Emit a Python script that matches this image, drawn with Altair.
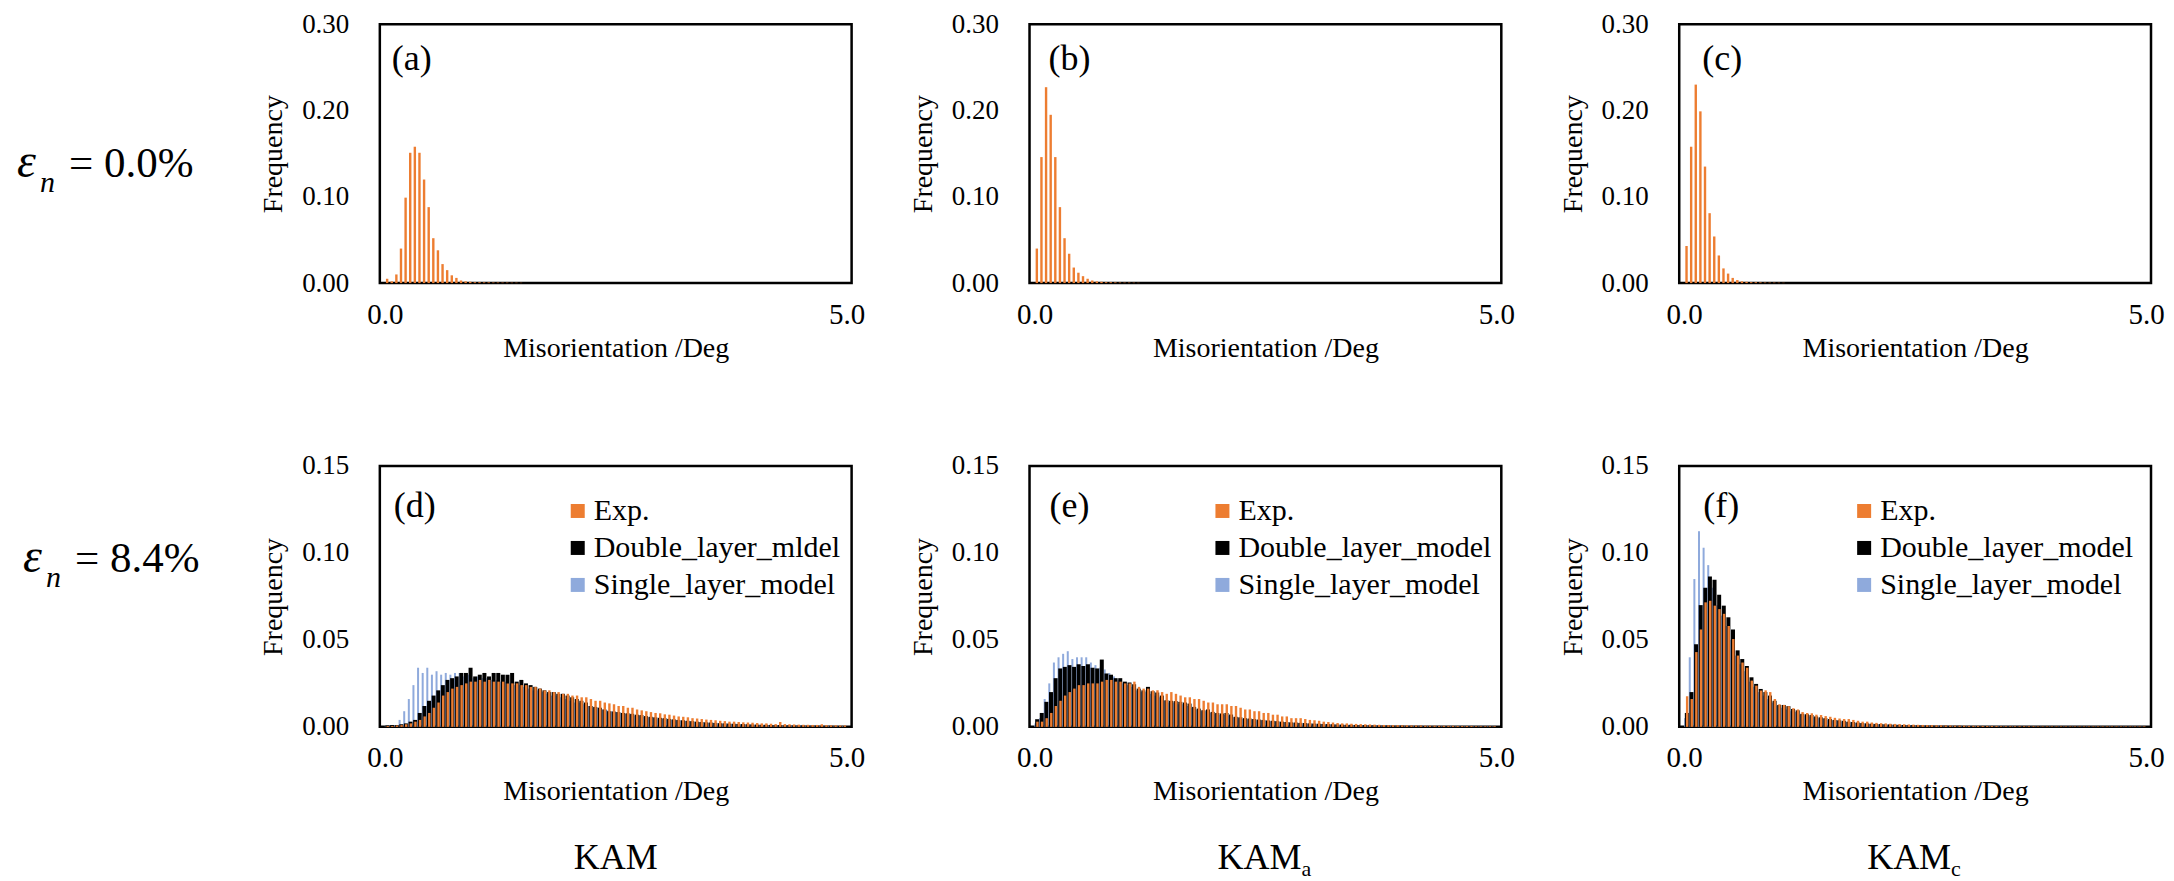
import altair as alt
import pandas as pd

FONT = "Liberation Serif"
BIN_WIDTH = 0.05
X_DOMAIN = [0.0, 5.0]
X_TICKS = [0.0, 5.0]
TOP_Y_DOMAIN = [0.0, 0.30]
TOP_Y_TICKS = [0.0, 0.10, 0.20, 0.30]
BOT_Y_DOMAIN = [0.0, 0.15]
BOT_Y_TICKS = [0.0, 0.05, 0.10, 0.15]

COLORS = ["#ED7D31", "#000000", "#8FAADC"]
NAMES_D = ["Exp.", "Double_layer_mldel", "Single_layer_model"]
NAMES_EF = ["Exp.", "Double_layer_model", "Single_layer_model"]
PANEL_LABELS = ["(a)", "(b)", "(c)", "(d)", "(e)", "(f)"]
ROW_LABELS = ["= 0.0%", "= 8.4%"]
BOTTOM_TITLES = [("KAM", ""), ("KAM", "a"), ("KAM", "c")]

# ---- eps_n = 0.0 % (top row), bin width 0.05 deg ----
exp_a = [0.005, 0.002, 0.010, 0.040, 0.099, 0.151, 0.158, 0.151, 0.120, 0.088,
         0.052, 0.038, 0.022, 0.015, 0.009, 0.006, 0.003, 0.002, 0.0015, 0.001,
         0.001, 0.0008, 0.0008, 0.0006, 0.0006, 0.0005, 0.0005, 0.0004, 0.0004, 0.0003]
exp_b = [0.040, 0.146, 0.227, 0.195, 0.146, 0.088, 0.052, 0.034, 0.018, 0.012,
         0.008, 0.005, 0.003, 0.002, 0.0015, 0.001, 0.001, 0.0008, 0.0006, 0.0005,
         0.0005, 0.0004, 0.0003]
exp_c = [0.043, 0.158, 0.230, 0.199, 0.135, 0.081, 0.054, 0.032, 0.017, 0.011,
         0.006, 0.0035, 0.002, 0.0015, 0.001, 0.001, 0.0008, 0.0006, 0.0005, 0.0005,
         0.0004, 0.0003]

# ---- eps_n = 8.4 % (bottom row) ----
exp_d = [0.0005, 0.0005, 0.0008, 0.001, 0.0015, 0.002, 0.003, 0.004, 0.006, 0.008,
         0.011, 0.014, 0.018, 0.020, 0.022, 0.023, 0.024, 0.025, 0.026, 0.026,
         0.027, 0.026, 0.027, 0.026, 0.026, 0.026, 0.025, 0.025, 0.025, 0.024,
         0.024, 0.023, 0.023, 0.022, 0.021, 0.021, 0.020, 0.020, 0.019, 0.019,
         0.018, 0.018, 0.017, 0.017, 0.016, 0.015, 0.015, 0.014, 0.0135, 0.013,
         0.012, 0.012, 0.011, 0.011, 0.010, 0.0095, 0.009, 0.0085, 0.008, 0.0078,
         0.0072, 0.007, 0.0065, 0.006, 0.0058, 0.0055, 0.005, 0.0048, 0.0045, 0.0042,
         0.004, 0.0038, 0.0035, 0.0033, 0.003, 0.003, 0.0028, 0.0026, 0.0025, 0.0024,
         0.0022, 0.002, 0.002, 0.0018, 0.0016, 0.0028, 0.0016, 0.0015, 0.0014, 0.0013,
         0.0012, 0.0012, 0.0011, 0.0011, 0.0015, 0.001, 0.0009, 0.0009, 0.0008, 0.0008]
dbl_d = [0.0008, 0.001, 0.001, 0.0015, 0.002, 0.003, 0.004, 0.008, 0.012, 0.015,
         0.018, 0.021, 0.024, 0.027, 0.028, 0.029, 0.031, 0.031, 0.034, 0.029,
         0.030, 0.031, 0.029, 0.031, 0.031, 0.030, 0.030, 0.031, 0.026, 0.027,
         0.025, 0.024, 0.023, 0.022, 0.021, 0.020, 0.020, 0.019, 0.019, 0.018,
         0.017, 0.016, 0.015, 0.014, 0.012, 0.0115, 0.011, 0.010, 0.009, 0.0088,
         0.0085, 0.008, 0.0078, 0.0075, 0.007, 0.0068, 0.0062, 0.0058, 0.0055, 0.0052,
         0.005, 0.0046, 0.0043, 0.004, 0.0038, 0.0035, 0.0033, 0.003, 0.0028, 0.0026,
         0.0025, 0.0023, 0.0021, 0.002, 0.0019, 0.0018, 0.0017, 0.0016, 0.0015, 0.0014,
         0.0013, 0.0012, 0.0012, 0.0011, 0.001, 0.001, 0.0009, 0.0009, 0.0008, 0.0008,
         0.0008, 0.0007, 0.0007, 0.0007, 0.0006, 0.0006, 0.0006, 0.0005, 0.0005, 0.0005]
sgl_d = [0.0003, 0.0005, 0.001, 0.004, 0.009, 0.016, 0.024, 0.034, 0.031, 0.034,
         0.030, 0.032, 0.030, 0.031, 0.030, 0.031, 0.031, 0.029, 0.030, 0.028,
         0.029, 0.028, 0.028, 0.027, 0.027, 0.026, 0.026, 0.025, 0.024, 0.024,
         0.023, 0.022, 0.021, 0.021, 0.020, 0.019, 0.018, 0.018, 0.017, 0.016,
         0.015, 0.014, 0.014, 0.013, 0.012, 0.011, 0.011, 0.010, 0.0095, 0.009,
         0.0085, 0.008, 0.0075, 0.007, 0.0066, 0.0062, 0.0058, 0.0055, 0.0052, 0.0048,
         0.0045, 0.0042, 0.004, 0.0037, 0.0035, 0.0033, 0.003, 0.0028, 0.0026, 0.0025,
         0.0023, 0.0022, 0.002, 0.0019, 0.0018, 0.0017, 0.0016, 0.0015, 0.0014, 0.0013,
         0.0012, 0.0012, 0.0011, 0.001, 0.001, 0.0009, 0.0009, 0.0008, 0.0008, 0.0008,
         0.0007, 0.0007, 0.0007, 0.0006, 0.0006, 0.0006, 0.0005, 0.0005, 0.0005, 0.0005]

exp_e = [0.003, 0.003, 0.005, 0.008, 0.012, 0.015, 0.018, 0.020, 0.022, 0.024,
         0.024, 0.025, 0.025, 0.025, 0.026, 0.027, 0.027, 0.026, 0.026, 0.025,
         0.025, 0.026, 0.023, 0.022, 0.022, 0.021, 0.021, 0.020, 0.019, 0.020,
         0.019, 0.018, 0.017, 0.017, 0.016, 0.016, 0.015, 0.014, 0.014, 0.013,
         0.013, 0.013, 0.012, 0.012, 0.011, 0.010, 0.010, 0.009, 0.009, 0.008,
         0.008, 0.007, 0.007, 0.006, 0.006, 0.005, 0.005, 0.005, 0.0045, 0.004,
         0.0038, 0.0035, 0.003, 0.0028, 0.0025, 0.0022, 0.002, 0.002, 0.0018, 0.0017,
         0.0016, 0.0015, 0.0014, 0.0013, 0.0012, 0.0011, 0.001, 0.001, 0.001, 0.0009,
         0.0009, 0.0008, 0.0008, 0.0008, 0.0007, 0.0007, 0.0007, 0.0006, 0.0006, 0.0006,
         0.0006, 0.0005, 0.0005, 0.0005, 0.0005, 0.0004, 0.0004, 0.0004, 0.0004, 0.0004]
dbl_e = [0.0044, 0.008, 0.0144, 0.020, 0.028, 0.0336, 0.0345, 0.0355, 0.0345, 0.036,
         0.035, 0.036, 0.034, 0.0336, 0.0387, 0.0307, 0.030, 0.028, 0.028, 0.026,
         0.0255, 0.0245, 0.022, 0.021, 0.023, 0.0205, 0.0198, 0.018, 0.0153, 0.015,
         0.0148, 0.0144, 0.014, 0.0134, 0.0115, 0.0105, 0.0096, 0.010, 0.0086, 0.008,
         0.0077, 0.008, 0.0071, 0.0058, 0.0055, 0.005, 0.0048, 0.0045, 0.0042, 0.004,
         0.0037, 0.0035, 0.0033, 0.003, 0.0028, 0.0026, 0.0025, 0.0023, 0.0022, 0.002,
         0.0019, 0.0018, 0.0017, 0.0016, 0.0015, 0.0014, 0.0013, 0.0012, 0.0012, 0.0011,
         0.001, 0.001, 0.0009, 0.0009, 0.0008, 0.0008, 0.0008, 0.0007, 0.0007, 0.0007,
         0.0006, 0.0006, 0.0006, 0.0006, 0.0005, 0.0005, 0.0005, 0.0005, 0.0005, 0.0005,
         0.0004, 0.0004, 0.0004, 0.0004, 0.0004, 0.0004, 0.0004, 0.0004, 0.0004, 0.0004]
sgl_e = [0.002, 0.005, 0.016, 0.025, 0.037, 0.040, 0.042, 0.0435, 0.039, 0.040,
         0.040, 0.040, 0.037, 0.0355, 0.034, 0.033, 0.031, 0.029, 0.027, 0.025,
         0.024, 0.023, 0.021, 0.020, 0.020, 0.019, 0.018, 0.017, 0.015, 0.014,
         0.014, 0.013, 0.013, 0.012, 0.011, 0.010, 0.009, 0.009, 0.008, 0.0075,
         0.007, 0.007, 0.0065, 0.0055, 0.005, 0.0046, 0.0044, 0.0041, 0.0038, 0.0036,
         0.0034, 0.0032, 0.003, 0.0028, 0.0026, 0.0024, 0.0023, 0.0021, 0.002, 0.0019,
         0.0018, 0.0017, 0.0016, 0.0015, 0.0014, 0.0013, 0.0012, 0.0011, 0.0011, 0.001,
         0.001, 0.0009, 0.0009, 0.0008, 0.0008, 0.0008, 0.0007, 0.0007, 0.0007, 0.0006,
         0.0006, 0.0006, 0.0006, 0.0006, 0.0006, 0.0005, 0.0005, 0.0005, 0.0005, 0.0005,
         0.0005, 0.0005, 0.0004, 0.0004, 0.0004, 0.0004, 0.0004, 0.0004, 0.0004, 0.0004]

exp_f = [0.0176, 0.016, 0.043, 0.056, 0.0716, 0.0725, 0.0697, 0.0677, 0.065, 0.058,
         0.0505, 0.041, 0.037, 0.034, 0.0266, 0.0237, 0.0209, 0.021, 0.020, 0.016,
         0.013, 0.0126, 0.0119, 0.0107, 0.010, 0.0085, 0.008, 0.0078, 0.007, 0.0068,
         0.0062, 0.0058, 0.0052, 0.0048, 0.0045, 0.0045, 0.004, 0.0035, 0.003, 0.003,
         0.0025, 0.0023, 0.0021, 0.002, 0.0018, 0.0017, 0.0016, 0.0015, 0.0014, 0.0013,
         0.0012, 0.0011, 0.001, 0.001, 0.0009, 0.0009, 0.0008, 0.0008, 0.0007, 0.0007,
         0.0007, 0.0006, 0.0006, 0.0006, 0.0005, 0.0005, 0.0005, 0.0005, 0.0004, 0.0004,
         0.0004, 0.0004, 0.0004, 0.0004, 0.0004, 0.0004, 0.0003, 0.0003, 0.0003, 0.0003,
         0.0003, 0.0003, 0.0003, 0.0003, 0.0003, 0.0003, 0.0003, 0.0003, 0.0003, 0.0003,
         0.0003, 0.0003, 0.0003, 0.0003, 0.0003, 0.0003, 0.0003, 0.0003, 0.0003, 0.0003]
dbl_f = [0.008, 0.020, 0.0475, 0.070, 0.080, 0.0865, 0.0846, 0.076, 0.0697, 0.063,
         0.056, 0.044, 0.039, 0.035, 0.0285, 0.0247, 0.0218, 0.020, 0.018, 0.015,
         0.0126, 0.0126, 0.0119, 0.0103, 0.0095, 0.0075, 0.0072, 0.0068, 0.006, 0.0055,
         0.005, 0.0045, 0.004, 0.0038, 0.0035, 0.003, 0.0028, 0.0025, 0.0022, 0.002,
         0.0018, 0.0017, 0.0016, 0.0015, 0.0014, 0.0013, 0.0012, 0.0011, 0.001, 0.001,
         0.0009, 0.0009, 0.0008, 0.0008, 0.0007, 0.0007, 0.0007, 0.0006, 0.0006, 0.0006,
         0.0005, 0.0005, 0.0005, 0.0005, 0.0005, 0.0005, 0.0004, 0.0004, 0.0004, 0.0004,
         0.0004, 0.0004, 0.0004, 0.0004, 0.0004, 0.0003, 0.0003, 0.0003, 0.0003, 0.0003,
         0.0003, 0.0003, 0.0003, 0.0003, 0.0003, 0.0003, 0.0003, 0.0003, 0.0003, 0.0003,
         0.0003, 0.0003, 0.0003, 0.0003, 0.0003, 0.0003, 0.0003, 0.0003, 0.0003, 0.0003]
sgl_f = [0.005, 0.040, 0.085, 0.1125, 0.103, 0.093, 0.080, 0.070, 0.064, 0.058,
         0.050, 0.041, 0.036, 0.032, 0.026, 0.023, 0.020, 0.018, 0.016, 0.014,
         0.012, 0.011, 0.010, 0.009, 0.0085, 0.007, 0.0066, 0.006, 0.0055, 0.005,
         0.0045, 0.004, 0.0037, 0.0034, 0.003, 0.0028, 0.0025, 0.0022, 0.002, 0.0018,
         0.0017, 0.0016, 0.0015, 0.0014, 0.0013, 0.0012, 0.0011, 0.001, 0.001, 0.0009,
         0.0009, 0.0008, 0.0008, 0.0007, 0.0007, 0.0007, 0.0006, 0.0006, 0.0006, 0.0005,
         0.0005, 0.0005, 0.0005, 0.0005, 0.0004, 0.0004, 0.0004, 0.0004, 0.0004, 0.0004,
         0.0004, 0.0004, 0.0003, 0.0003, 0.0003, 0.0003, 0.0003, 0.0003, 0.0003, 0.0003,
         0.0003, 0.0003, 0.0003, 0.0003, 0.0003, 0.0003, 0.0003, 0.0003, 0.0003, 0.0003,
         0.0003, 0.0003, 0.0003, 0.0003, 0.0003, 0.0003, 0.0003, 0.0003, 0.0003, 0.0003]

W = 472
H_TOP = 259
H_BOT = 261


def frame(values, series):
    return pd.DataFrame({
        "deg": [(i + 0.5) * BIN_WIDTH for i in range(len(values))],
        "freq": values,
        "series": [series] * len(values),
    })


def x_enc():
    return alt.X("deg:Q", scale=alt.Scale(domain=X_DOMAIN, nice=False, zero=False),
                 axis=alt.Axis(values=X_TICKS, format=".1f", title="Misorientation /Deg",
                               labelFlush=False, labelFontSize=29, labelPadding=17,
                               titleFontSize=28, titlePadding=5))


def y_enc(domain, ticks):
    return alt.Y("freq:Q", scale=alt.Scale(domain=domain, nice=False),
                 axis=alt.Axis(values=ticks, format=".2f", title="Frequency",
                               labelFontSize=27, labelPadding=31,
                               titleFontSize=28, titlePadding=14))


def text_layer(text, x, y, size, style="normal", align="left"):
    return alt.Chart(pd.DataFrame({"t": [text]})).mark_text(
        align=align, baseline="alphabetic", font=FONT, fontSize=size,
        fontStyle=style, color="black"
    ).encode(x=alt.value(x), y=alt.value(y), text="t:N")


def row_label(text, x0, y0):
    return [
        text_layer("\u03b5", x0, y0, 48, style="italic"),
        text_layer("n", x0 + 23, y0 + 15, 30, style="italic"),
        text_layer(text, x0 + 52, y0, 43),
    ]


def top_panel(values, label, label_x, extra=None):
    bars = alt.Chart(frame(values, "Exp.")).mark_bar(size=2.4, color=COLORS[0]).encode(
        x=x_enc(), y=y_enc(TOP_Y_DOMAIN, TOP_Y_TICKS))
    layers = [bars, text_layer(label, label_x, 46, 36)] + (extra or [])
    return alt.layer(*layers).properties(width=W, height=H_TOP)


def bottom_panel(exp, dbl, sgl, names, label, label_x, leg_x, title, extra=None):
    color = alt.Color("series:N", scale=alt.Scale(domain=names, range=COLORS),
                      legend=alt.Legend(orient="none", legendX=leg_x, legendY=30, title=None,
                                        symbolType="square", symbolSize=196,
                                        symbolStrokeWidth=0, labelFontSize=30, labelFont=FONT,
                                        labelColor="black", labelOffset=1, rowPadding=7,
                                        padding=0, labelLimit=500))

    def bar_layer(vals, name, size, off):
        return alt.Chart(frame(vals, name)).mark_bar(size=size, xOffset=off).encode(
            x=x_enc(), y=y_enc(BOT_Y_DOMAIN, BOT_Y_TICKS), color=color)

    layers = [
        bar_layer(sgl, names[2], 2.0, -1.4),
        bar_layer(dbl, names[1], 4.0, 0.3),
        bar_layer(exp, names[0], 2.4, 0.6),
        text_layer(label, label_x, 51, 36),
    ]
    main, sub = title
    if sub:
        layers.append(text_layer(main, 272, 403, 36, align="right"))
        layers.append(text_layer(sub, 272, 410, 22, align="left"))
    else:
        layers.append(text_layer(main, W / 2, 403, 36, align="center"))
    layers += (extra or [])
    return alt.layer(*layers).properties(width=W, height=H_BOT)


top_a = top_panel(exp_a, PANEL_LABELS[0], 12, row_label(ROW_LABELS[0], -363, 153))
top_b = top_panel(exp_b, PANEL_LABELS[1], 19)
top_c = top_panel(exp_c, PANEL_LABELS[2], 23)
bot_d = bottom_panel(exp_d, dbl_d, sgl_d, NAMES_D, PANEL_LABELS[3], 14, 183, BOTTOM_TITLES[0],
                     row_label(ROW_LABELS[1], -357, 106))
bot_e = bottom_panel(exp_e, dbl_e, sgl_e, NAMES_EF, PANEL_LABELS[4], 20, 178, BOTTOM_TITLES[1])
bot_f = bottom_panel(exp_f, dbl_f, sgl_f, NAMES_EF, PANEL_LABELS[5], 24, 170, BOTTOM_TITLES[2])

chart = alt.concat(
    top_a, top_b, top_c, bot_d, bot_e, bot_f,
    columns=3, spacing=alt.RowColnumber(row=183, column=178), bounds="flush"
).resolve_scale(
    x="independent", y="independent", color="independent"
).resolve_legend(
    color="independent"
).properties(
    padding={"left": 7, "top": 0, "right": 0, "bottom": 0}
).configure(
    font=FONT
).configure_view(
    stroke="black", strokeWidth=2.5
).configure_axis(
    labelFont=FONT, titleFont=FONT, labelColor="black", titleColor="black",
    titleFontWeight="normal", ticks=False, domain=False, grid=False
)

chart.save("out.html", embed_options={"renderer": "svg", "actions": False})
